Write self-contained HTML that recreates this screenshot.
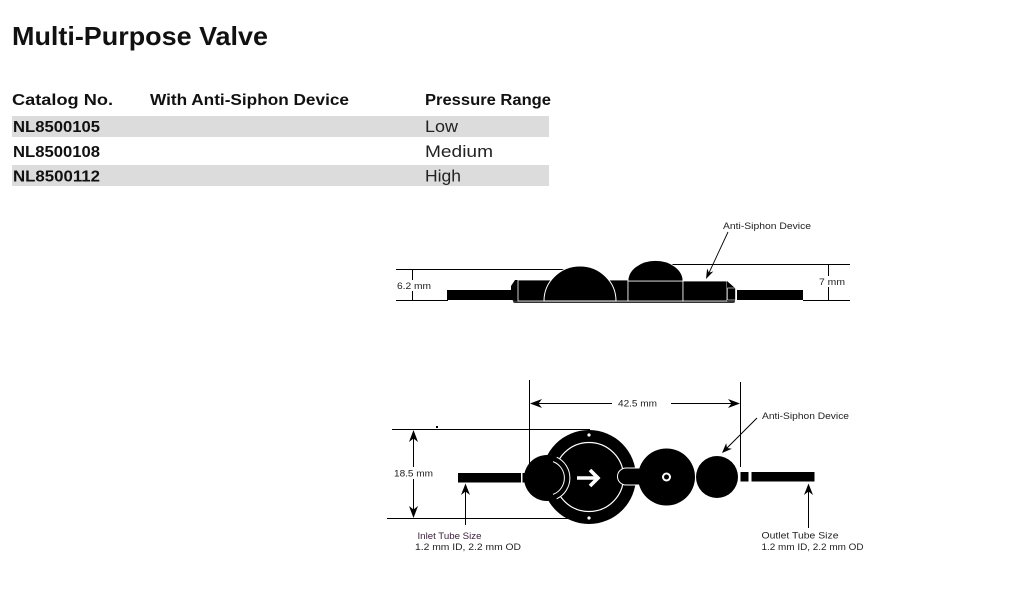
<!DOCTYPE html>
<html>
<head>
<meta charset="utf-8">
<style>
  html, body { margin:0; padding:0; background:#fff; }
  body { width:1020px; height:616px; overflow:hidden; }
  svg { display:block; }
  .t { font-family:"Liberation Sans", Arial, sans-serif; }
</style>
</head>
<body>
<svg width="1020" height="616" viewBox="0 0 1020 616" xmlns="http://www.w3.org/2000/svg">
  <rect x="0" y="0" width="1020" height="616" fill="#fff"/>

  <!-- Title -->
  <text class="t" x="12" y="45" font-size="26" font-weight="bold" fill="#111" textLength="256" lengthAdjust="spacingAndGlyphs">Multi-Purpose Valve</text>

  <!-- Table -->
  <rect x="12" y="116" width="537" height="21" fill="#dcdcdd"/>
  <rect x="12" y="165" width="537" height="21" fill="#dcdcdd"/>
  <g class="t" font-size="16" font-weight="bold" fill="#111">
    <text x="12" y="105" textLength="101" lengthAdjust="spacingAndGlyphs">Catalog No.</text>
    <text x="150" y="105" textLength="199" lengthAdjust="spacingAndGlyphs">With Anti-Siphon Device</text>
    <text x="425" y="105" textLength="126" lengthAdjust="spacingAndGlyphs">Pressure Range</text>
    <text x="13" y="132" textLength="87" lengthAdjust="spacingAndGlyphs">NL8500105</text>
    <text x="13" y="157" textLength="87" lengthAdjust="spacingAndGlyphs">NL8500108</text>
    <text x="13" y="181.5" textLength="87" lengthAdjust="spacingAndGlyphs">NL8500112</text>
  </g>
  <g class="t" font-size="17" fill="#222">
    <text x="425" y="132" textLength="33" lengthAdjust="spacingAndGlyphs">Low</text>
    <text x="425" y="157" textLength="68" lengthAdjust="spacingAndGlyphs">Medium</text>
    <text x="425" y="181.5" textLength="36" lengthAdjust="spacingAndGlyphs">High</text>
  </g>

  <!-- ===== Side view ===== -->
  <g stroke="#000" stroke-width="1" fill="none">
    <line x1="396" y1="269.5" x2="564" y2="269.5"/>
    <line x1="396" y1="300.5" x2="448" y2="300.5"/>
    <line x1="412.5" y1="269.5" x2="412.5" y2="300.5"/>
    <line x1="669" y1="264.5" x2="850" y2="264.5"/>
    <line x1="803" y1="300.5" x2="850" y2="300.5"/>
    <line x1="828.5" y1="264.5" x2="828.5" y2="300.5"/>
  </g>
  <!-- label gaps -->
  <rect x="396" y="280" width="36" height="11" fill="#fff"/>
  <rect x="818" y="276" width="28" height="11" fill="#fff"/>
  <!-- body bottom shadow -->
  <rect x="513" y="299" width="222" height="4" rx="2" fill="#333"/>
  <!-- left tube -->
  <rect x="447" y="290" width="64" height="10" fill="#000"/>
  <!-- left chamfer piece -->
  <polygon points="511,300 511,286 515,280 518,280 518,301" fill="#000"/>
  <!-- left body -->
  <rect x="518" y="280" width="110" height="21" fill="#000" stroke="#fff" stroke-width="0.8"/>
  <!-- big dome -->
  <path d="M544,301 A36,35 0 0 1 616,301 Z" fill="#000" stroke="#fff" stroke-width="1"/>
  <!-- second block + dome -->
  <rect x="628" y="281" width="55" height="20" fill="#000" stroke="#fff" stroke-width="0.8"/>
  <path d="M628,281 A27.5,20.5 0 0 1 683,281 Z" fill="#000" stroke="#fff" stroke-width="0.8"/>
  <!-- third block -->
  <rect x="683" y="281" width="44" height="20" fill="#000" stroke="#fff" stroke-width="0.8"/>
  <!-- right chamfer -->
  <polygon points="727,281 735,288 735,301 727,301" fill="#000"/>
  <rect x="727.5" y="288" width="8" height="12" fill="#000" stroke="#fff" stroke-width="0.6"/>
  <!-- right tube -->
  <rect x="737" y="290" width="66" height="10" fill="#000"/>
  <!-- side arrow -->
  <line x1="728" y1="232" x2="708" y2="275" stroke="#000" stroke-width="0.9"/>
  <polygon points="706,279 713.4,271.4 709,272.7 707.1,268.5" fill="#000"/>
  <g class="t" font-size="9" fill="#222">
    <text x="723" y="229" textLength="88" lengthAdjust="spacingAndGlyphs">Anti-Siphon Device</text>
    <text x="397" y="289" textLength="34" lengthAdjust="spacingAndGlyphs">6.2 mm</text>
    <text x="819" y="285" textLength="26" lengthAdjust="spacingAndGlyphs">7 mm</text>
  </g>

  <!-- ===== Top view ===== -->
  <g stroke="#000" stroke-width="1" fill="none">
    <line x1="392" y1="429.5" x2="590" y2="429.5"/>
    <line x1="387" y1="518.5" x2="578" y2="518.5"/>
    <line x1="413.5" y1="433" x2="413.5" y2="515"/>
    <line x1="529.5" y1="380" x2="529.5" y2="465"/>
    <line x1="740.5" y1="382" x2="740.5" y2="467"/>
    <line x1="532" y1="403.5" x2="612" y2="403.5"/>
    <line x1="671" y1="403.5" x2="738" y2="403.5"/>
    <line x1="465.5" y1="488" x2="465.5" y2="525"/>
    <line x1="808.5" y1="488" x2="808.5" y2="528"/>
    <line x1="757" y1="418" x2="725" y2="450"/>
  </g>
  <rect x="392" y="467" width="42" height="12" fill="#fff"/>
  <!-- arrowheads -->
  <polygon points="413.5,430 409,442 413.5,438.5 418,442" fill="#000"/>
  <polygon points="413.5,518 409,506 413.5,509.5 418,506" fill="#000"/>
  <polygon points="530,403.5 542,399 538.5,403.5 542,408" fill="#000"/>
  <polygon points="740,403.5 728,399 731.5,403.5 728,408" fill="#000"/>
  <polygon points="465.5,483.5 461,495 465.5,491.5 470,495" fill="#000"/>
  <polygon points="808.5,483.5 804,495 808.5,491.5 813,495" fill="#000"/>
  <polygon points="722,453 731.9,448.8 727,448 726.2,443.1" fill="#000"/>
  <!-- dot -->
  <rect x="436" y="426" width="2" height="2" fill="#000"/>

  <!-- inlet tube -->
  <rect x="458" y="473" width="63" height="9.5" fill="#000"/>
  <rect x="522.5" y="473" width="6" height="9.5" fill="#000"/>
  <!-- big circle -->
  <circle cx="589" cy="477" r="47" fill="#000"/>
  <circle cx="589" cy="477" r="34.5" fill="none" stroke="#fff" stroke-width="1.2"/>
  <circle cx="589" cy="435" r="1.6" fill="#fff"/>
  <circle cx="589" cy="518" r="1.6" fill="#fff"/>
  <!-- white arrow -->
  <g stroke="#fff" stroke-width="3.6" fill="none" stroke-linecap="butt" stroke-linejoin="miter">
    <line x1="577" y1="478" x2="597" y2="478"/>
    <polyline points="590,470 598,478 590,486"/>
  </g>
  <!-- inlet small circle with ring -->
  <circle cx="547" cy="478" r="23" fill="#000"/>
  <path d="M556.7,457.2 A23,23 0 0 1 556.7,498.8" fill="none" stroke="#fff" stroke-width="1"/>
  <circle cx="547" cy="478" r="17.5" fill="#000"/>
  <path d="M553,461.6 A17.5,17.5 0 0 1 553,494.4" fill="none" stroke="#fff" stroke-width="1"/>
  <!-- capsule connector -->
  <path d="M641,468 L626,468 A8.5,8.5 0 0 0 626,485 L641,485 Z" fill="#000" stroke="#fff" stroke-width="1"/>
  <!-- middle circle -->
  <circle cx="666.5" cy="477" r="28.5" fill="#000"/>
  <circle cx="666.5" cy="477" r="4.5" fill="#fff"/>
  <circle cx="666.5" cy="477" r="2.5" fill="#000"/>
  <!-- anti-siphon circle -->
  <circle cx="717" cy="477" r="21" fill="#000"/>
  <!-- outlet -->
  <rect x="740.5" y="472" width="8" height="9.5" fill="#000"/>
  <rect x="751.5" y="472" width="63" height="9.5" fill="#000"/>

  <g class="t" font-size="9" fill="#222">
    <text x="618" y="406.5" textLength="39" lengthAdjust="spacingAndGlyphs">42.5 mm</text>
    <text x="394" y="476.5" textLength="39" lengthAdjust="spacingAndGlyphs">18.5 mm</text>
    <text x="762" y="419" textLength="87" lengthAdjust="spacingAndGlyphs">Anti-Siphon Device</text>
    <text x="417.5" y="539" textLength="64" lengthAdjust="spacingAndGlyphs" fill="#3a1f3a">Inlet Tube Size</text>
    <text x="415" y="550" textLength="106" lengthAdjust="spacingAndGlyphs">1.2 mm ID, 2.2 mm OD</text>
    <text x="761.5" y="538.5" textLength="77" lengthAdjust="spacingAndGlyphs">Outlet Tube Size</text>
    <text x="761.5" y="550" textLength="102" lengthAdjust="spacingAndGlyphs">1.2 mm ID, 2.2 mm OD</text>
  </g>
</svg>
</body>
</html>
